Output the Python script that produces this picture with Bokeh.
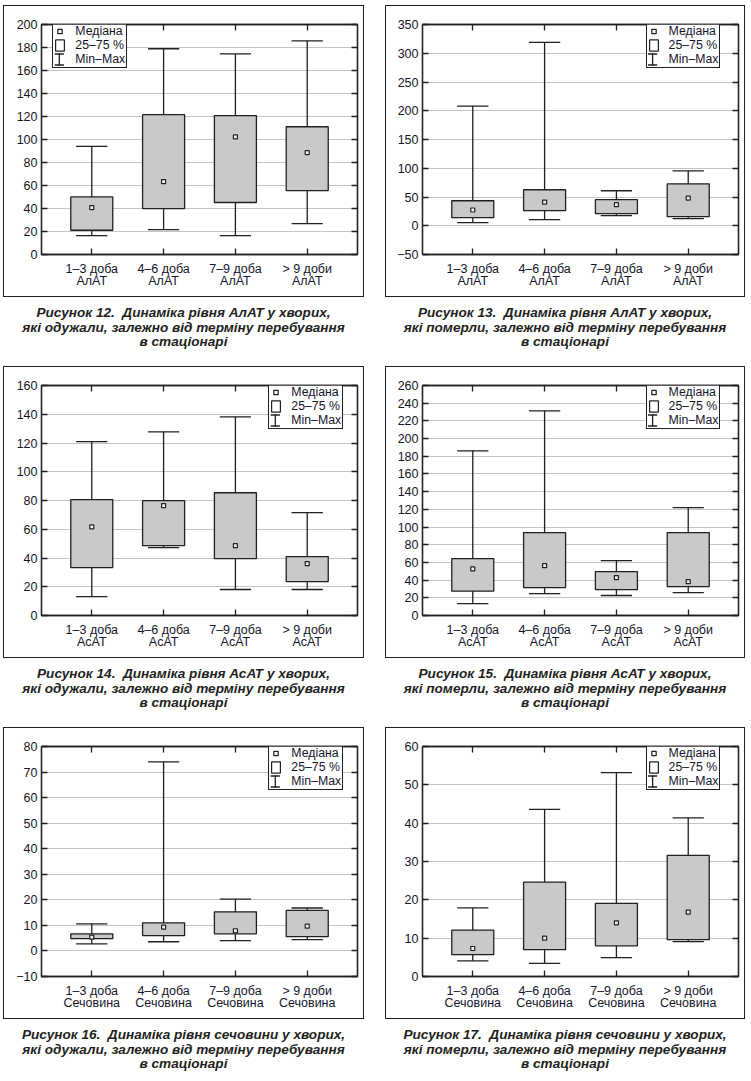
from bokeh.plotting import figure
from bokeh.models import (Range1d, FixedTicker, LinearAxis, Legend, LegendItem,
                          BoxAnnotation, Div, Grid)
from bokeh.layouts import column, row
from bokeh.embed import file_html
from bokeh.resources import INLINE

# ---------------- data ----------------
groups = ["1–3 доба", "4–6 доба", "7–9 доба", "> 9 доби"]

# Figure 12: АлАТ, recovered
alat_rec_min = [16.5, 21.7, 16.5, 26.9]
alat_rec_q1 = [21.1, 39.9, 45.2, 55.6]
alat_rec_med = [40.8, 63.4, 102.2, 88.6]
alat_rec_q3 = [50.1, 121.6, 120.7, 111.1]
alat_rec_max = [94.1, 178.9, 174.5, 185.8]

# Figure 13: АлАТ, died
alat_died_min = [5.4, 10.6, 17.6, 12.4]
alat_died_q1 = [14.1, 26.2, 21.0, 15.8]
alat_died_med = [27.4, 41.2, 36.6, 48.2]
alat_died_q3 = [43.5, 62.6, 45.3, 73.0]
alat_died_max = [208.1, 318.9, 60.9, 95.5]

# Figure 14: АсАТ, recovered
asat_rec_min = [13.2, 47.2, 18.1, 18.1]
asat_rec_q1 = [33.3, 48.6, 39.6, 23.6]
asat_rec_med = [61.6, 76.4, 48.6, 36.1]
asat_rec_q3 = [80.6, 79.9, 85.4, 41.0]
asat_rec_max = [120.9, 127.8, 138.2, 71.5]

# Figure 15: АсАТ, died
asat_died_min = [13.5, 24.8, 22.6, 25.9]
asat_died_q1 = [27.5, 31.6, 29.3, 32.7]
asat_died_med = [52.7, 56.4, 42.9, 38.4]
asat_died_q3 = [64.3, 93.7, 49.7, 93.7]
asat_died_max = [186.2, 231.4, 62.1, 121.9]

# Figure 16: сечовина, recovered
urea_rec_min = [2.8, 3.6, 4.0, 4.4]
urea_rec_q1 = [4.8, 6.0, 6.7, 5.6]
urea_rec_med = [5.4, 9.3, 7.9, 9.7]
urea_rec_q3 = [6.7, 11.0, 15.3, 15.9]
urea_rec_max = [10.6, 74.0, 20.3, 16.8]

# Figure 17: сечовина, died
urea_died_min = [4.1, 3.4, 4.9, 9.1]
urea_died_q1 = [5.7, 7.0, 8.0, 9.6]
urea_died_med = [7.3, 10.0, 14.0, 16.8]
urea_died_q3 = [12.1, 24.6, 19.1, 31.6]
urea_died_max = [17.9, 43.6, 53.2, 41.4]

ticks_12 = [0, 20, 40, 60, 80, 100, 120, 140, 160, 180, 200]
ticks_13 = [-50, 0, 50, 100, 150, 200, 250, 300, 350]
ticks_14 = [0, 20, 40, 60, 80, 100, 120, 140, 160]
ticks_15 = [0, 20, 40, 60, 80, 100, 120, 140, 160, 180, 200, 220, 240, 260]
ticks_16 = [-10, 0, 10, 20, 30, 40, 50, 60, 70, 80]
ticks_17 = [0, 10, 20, 30, 40, 50, 60]

legend_labels = ["Медіана", "25–75 %", "Min–Max"]

captions = {
    12: ["Рисунок 12.&nbsp; Динаміка рівня АлАТ у хворих,", "які одужали, залежно від терміну перебування", "в стаціонарі"],
    13: ["Рисунок 13.&nbsp; Динаміка рівня АлАТ у хворих,", "які померли, залежно від терміну перебування", "в стаціонарі"],
    14: ["Рисунок 14.&nbsp; Динаміка рівня АсАТ у хворих,", "які одужали, залежно від терміну перебування", "в стаціонарі"],
    15: ["Рисунок 15.&nbsp; Динаміка рівня АсАТ у хворих,", "які померли, залежно від терміну перебування", "в стаціонарі"],
    16: ["Рисунок 16.&nbsp; Динаміка рівня сечовини у хворих,", "які одужали, залежно від терміну перебування", "в стаціонарі"],
    17: ["Рисунок 17.&nbsp; Динаміка рівня сечовини у хворих,", "які померли, залежно від терміну перебування", "в стаціонарі"],
}

# ---------------- style ----------------
INK = "#231f20"
TXT = "#15152c"
BOX_FILL = "#c9c9cb"
GRID = "#c4c4c4"
FONT = "Liberation Sans"
FIG_H = 290
B_TOP, B_BOT, B_RIGHT = 18, 42, 6
FRAME_H = FIG_H - B_TOP - B_BOT
X0, X1 = 0.3, 4.7
BOX_W = 0.585
CAP_W = 0.435
LEG_PAD, LEG_ROW, LEG_GW, LEG_STAND = 1, 14, 11, 10
LEG_W = 73      # approximate legend width (px) for its white backing
LEG_TOP = 0     # legend top, px relative to the frame top


def fmt(t):
    return ("\u2212" + str(-t)) if t < 0 else str(t)


def style_axis(ax, ticks, labels=True):
    ax.major_tick_in = 6
    ax.major_tick_out = 0
    ax.minor_tick_in = 0
    ax.minor_tick_out = 0
    ax.axis_line_color = INK
    ax.axis_line_width = 1.3
    ax.major_tick_line_color = INK
    ax.major_tick_line_width = 1.3
    ax.major_label_text_font = FONT
    ax.major_label_text_font_size = "12.5px"
    ax.major_label_text_color = TXT
    if not labels:
        ax.major_label_overrides = {t: "" for t in ticks}
        ax.major_label_standoff = 0


def make_panel(fig_w, b_left, yticks, mins, q1, med, q3, maxs, suffix, leg_left):
    ymin, ymax = yticks[0], yticks[-1]
    frame_w = fig_w - b_left - B_RIGHT
    p = figure(width=fig_w, height=FIG_H, x_range=Range1d(X0, X1), y_range=Range1d(ymin, ymax),
               output_backend="svg", toolbar_location=None, x_axis_type=None, y_axis_type=None,
               min_border_left=b_left, min_border_right=B_RIGHT, min_border_top=B_TOP,
               min_border_bottom=B_BOT, margin=0,
               styles={"outline": f"1.5px solid {INK}"})
    p.outline_line_color = INK
    p.outline_line_width = 1.3
    p.background_fill_color = "white"
    p.border_fill_color = "white"

    xs = [i + 1 for i in range(len(groups))]
    left = LinearAxis(ticker=FixedTicker(ticks=yticks))
    style_axis(left, yticks)
    left.major_label_overrides = {t: fmt(t) for t in yticks}
    left.major_label_standoff = 4
    right = LinearAxis(ticker=FixedTicker(ticks=yticks))
    style_axis(right, yticks, labels=False)
    bottom = LinearAxis(ticker=FixedTicker(ticks=xs))
    style_axis(bottom, xs)
    bottom.major_label_overrides = {x: f"{g}\n{suffix}" for x, g in zip(xs, groups)}
    bottom.major_label_standoff = 7
    bottom.major_label_text_line_height = 0.9
    top = LinearAxis(ticker=FixedTicker(ticks=xs))
    style_axis(top, xs, labels=False)
    p.add_layout(left, "left")
    p.add_layout(right, "right")
    p.add_layout(bottom, "below")
    p.add_layout(top, "above")
    p.add_layout(Grid(dimension=1, axis=left, grid_line_color=GRID, grid_line_width=1))

    # whiskers
    p.segment(x0=xs, y0=mins, x1=xs, y1=maxs, line_color=INK, line_width=1.3)
    p.segment(x0=[x - CAP_W / 2 for x in xs], y0=mins, x1=[x + CAP_W / 2 for x in xs], y1=mins,
              line_color=INK, line_width=1.3)
    p.segment(x0=[x - CAP_W / 2 for x in xs], y0=maxs, x1=[x + CAP_W / 2 for x in xs], y1=maxs,
              line_color=INK, line_width=1.3)
    # boxes
    p.vbar(x=xs, width=BOX_W, bottom=q1, top=q3, fill_color=BOX_FILL, line_color=INK, line_width=1.3)
    # medians
    r_med = p.scatter(x=xs, y=med, marker="square", size=4, fill_color="#f4f4f4", line_color=INK,
                      line_width=1.2)

    # legend-only (hidden) renderers: open box icon, blank for the whisker icon
    r_box_leg = p.vbar(x=xs, width=BOX_W, bottom=q1, top=q3, fill_color="white", line_color=INK,
                       line_width=1.2, visible=False)
    r_blank = p.segment(x0=xs, y0=mins, x1=xs, y1=maxs, line_alpha=0, visible=False)

    def dx(px):
        return X0 + px * (X1 - X0) / frame_w

    def dy(px):
        return ymax - px * (ymax - ymin) / FRAME_H

    leg_h = 2 * LEG_PAD + 3 * LEG_ROW
    # white backing of the legend (covers grid lines)
    p.add_layout(BoxAnnotation(left=dx(leg_left), right=dx(leg_left + LEG_W), top=dy(LEG_TOP),
                               bottom=dy(LEG_TOP + leg_h), fill_color="white", fill_alpha=1,
                               line_alpha=0, level="annotation"))
    # I-beam icon of the "Min–Max" item
    cx = leg_left + LEG_PAD + LEG_GW / 2
    cy = LEG_TOP + 2.5 * LEG_ROW
    hh, hw, lw = 5.5, 4.6, 0.65
    for l, r, t, b in [(cx - lw, cx + lw, cy - hh - lw, cy + hh + lw),
                       (cx - hw, cx + hw, cy - hh - lw, cy - hh + lw),
                       (cx - hw, cx + hw, cy + hh - lw, cy + hh + lw)]:
        p.add_layout(BoxAnnotation(left=dx(l), right=dx(r), top=dy(t), bottom=dy(b),
                                   fill_color=INK, fill_alpha=1, line_alpha=0,
                                   level="overlay"))

    legend = Legend(
        items=[LegendItem(label=legend_labels[0], renderers=[r_med]),
               LegendItem(label=legend_labels[1], renderers=[r_box_leg]),
               LegendItem(label=legend_labels[2], renderers=[r_blank])],
        location=(leg_left, FRAME_H - LEG_TOP - leg_h), orientation="vertical",
        padding=LEG_PAD, spacing=0, margin=0, label_height=LEG_ROW, glyph_height=LEG_ROW,
        glyph_width=LEG_GW, label_standoff=LEG_STAND, label_text_font=FONT,
        label_text_font_size="12.3px", label_text_color=TXT, label_text_baseline="middle",
        border_line_color=INK, border_line_width=1.2, border_line_alpha=1,
        background_fill_alpha=0)
    p.add_layout(legend)
    return p


def make_caption(lines, w, h):
    html = ("<div style=\"text-align:center;font-family:'Liberation Sans',Arial,sans-serif;"
            "font-style:italic;font-weight:bold;font-size:13.6px;line-height:14.5px;"
            f"color:{INK};padding-top:10px;width:{w}px;\">" + "<br>".join(lines) + "</div>")
    return Div(text=html, width=w, height=h, margin=0)


W1, BL1 = 359, 37
W2, BL2 = 358, 36

p12 = make_panel(W1, BL1, ticks_12, alat_rec_min, alat_rec_q1, alat_rec_med, alat_rec_q3, alat_rec_max, "АлАТ", 11.3)
p13 = make_panel(W2, BL2, ticks_13, alat_died_min, alat_died_q1, alat_died_med, alat_died_q3, alat_died_max, "АлАТ", 223.6)
p14 = make_panel(W1, BL1, ticks_14, asat_rec_min, asat_rec_q1, asat_rec_med, asat_rec_q3, asat_rec_max, "АсАТ", 227.3)
p15 = make_panel(W2, BL2, ticks_15, asat_died_min, asat_died_q1, asat_died_med, asat_died_q3, asat_died_max, "АсАТ", 223.6)
p16 = make_panel(W1, BL1, ticks_16, urea_rec_min, urea_rec_q1, urea_rec_med, urea_rec_q3, urea_rec_max, "Сечовина", 227.3)
p17 = make_panel(W2, BL2, ticks_17, urea_died_min, urea_died_q1, urea_died_med, urea_died_q3, urea_died_max, "Сечовина", 223.6)

r1 = row(column(p12, make_caption(captions[12], W1, 71), margin=0),
         column(p13, make_caption(captions[13], W2, 71), margin=0), spacing=23, margin=0)
r2 = row(column(p14, make_caption(captions[14], W1, 71), margin=0),
         column(p15, make_caption(captions[15], W2, 71), margin=0), spacing=23, margin=0)
r3 = row(column(p16, make_caption(captions[16], W1, 56), margin=0),
         column(p17, make_caption(captions[17], W2, 56), margin=0), spacing=23, margin=0)
layout = column(r1, r2, r3, margin=(6, 0, 0, 4))

open("out.html", "w").write(file_html(layout, INLINE))
